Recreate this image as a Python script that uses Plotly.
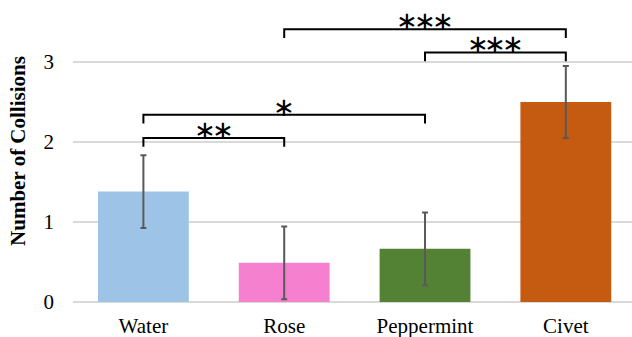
import plotly.graph_objects as go

categories = ["Water", "Rose", "Peppermint", "Civet"]
means = [1.38, 0.49, 0.665, 2.50]
errors = [0.455, 0.455, 0.455, 0.45]
bar_colors = ["#9DC3E6", "#F580CF", "#548235", "#C55A11"]

# significance brackets: (left category, right category, height, label)
brackets = [
    ("Water", "Rose", 2.05, "**"),
    ("Water", "Peppermint", 2.34, "*"),
    ("Rose", "Civet", 3.41, "***"),
    ("Peppermint", "Civet", 3.12, "***"),
]
y_ticks = [0, 1, 2, 3]

fig = go.Figure()
fig.add_trace(go.Bar(
    x=list(range(len(categories))), y=means,
    marker=dict(color=bar_colors, line=dict(width=0)),
    error_y=dict(type="data", array=errors, color="#595959", thickness=2, width=3),
    width=0.645,
))

tick_drop = 0.11
star_step = 0.125
for left, right, h, label in brackets:
    x0 = categories.index(left)
    x1 = categories.index(right)
    fig.add_shape(type="path",
                  path=f"M {x0} {h - tick_drop} L {x0} {h} L {x1} {h} L {x1} {h - tick_drop}",
                  xref="x", yref="y", line=dict(color="black", width=2))
    n = len(label)
    mid = (x0 + x1) / 2
    for k in range(n):
        fig.add_annotation(x=mid + (k - (n - 1) / 2) * star_step, y=h, text="∗",
                           showarrow=False, xanchor="center", yanchor="middle", yshift=8,
                           font=dict(family="DejaVu Sans", size=26, color="black"))

fig.update_layout(
    width=632, height=337,
    margin=dict(l=73, r=0, t=0, b=35),
    paper_bgcolor="white", plot_bgcolor="white",
    showlegend=False,
    font=dict(family="Liberation Serif", size=21, color="black"),
    xaxis=dict(range=[-0.5, 3.47], tickmode="array",
               tickvals=list(range(len(categories))), ticktext=categories,
               showgrid=False, zeroline=False, showline=False, ticks="",
               ticklabelstandoff=9, tickfont=dict(size=21), automargin=False),
    yaxis=dict(range=[0, 3.775], tickvals=y_ticks, showgrid=True,
               gridcolor="#D9D9D9", gridwidth=1.5, zeroline=True,
               zerolinecolor="#D9D9D9", zerolinewidth=1.5, showline=False,
               ticks="", ticklabelstandoff=18, tickfont=dict(size=21),
               automargin=False,
               title=dict(text="<b>Number of Collisions</b>", standoff=12,
                          font=dict(size=21))),
)

fig.write_html("out.html", config={"displayModeBar": False},
               post_script="document.body.style.margin='0';")
